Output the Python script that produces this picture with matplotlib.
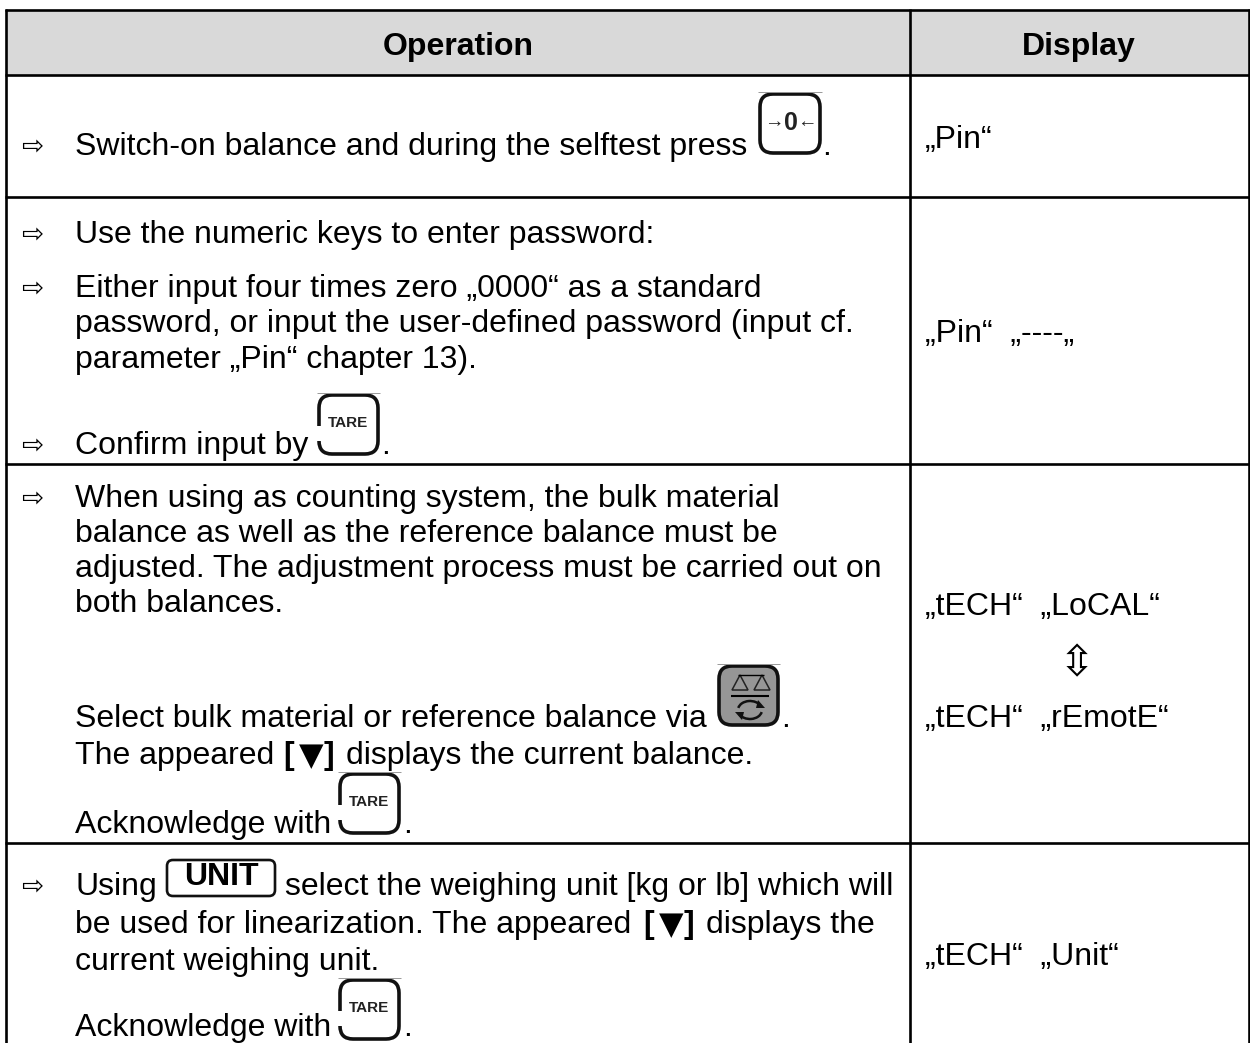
# Operating steps table with key icons, redrawn on a pixel-sized axes.

import matplotlib
matplotlib.use("Agg")
import matplotlib.pyplot as plt
from matplotlib.patches import Rectangle, FancyBboxPatch, Polygon, Arc

plt.rcParams["font.family"] = ["Liberation Sans", "DejaVu Sans"]

HEADERS = ["Operation", "Display"]
ARROW = "\u21e8"
UPDOWN = "\u21f3"
MARK = "\u25bc"

OPERATION_LINES = [
    "Switch-on balance and during the selftest press",
    "Use the numeric keys to enter password:",
    "Either input four times zero \u201e0000\u201c as a standard",
    "password, or input the user-defined password (input cf.",
    "parameter \u201ePin\u201c chapter 13).",
    "Confirm input by",
    "When using as counting system, the bulk material",
    "balance as well as the reference balance must be",
    "adjusted. The adjustment process must be carried out on",
    "both balances.",
    "Select bulk material or reference balance via",
    "Acknowledge with",
    "be used for linearization. The appeared",
    "current weighing unit.",
    "Acknowledge with",
]
LINE_X = [75] * len(OPERATION_LINES)
LINE_Y = [155, 243, 297, 332, 368, 454, 507, 542, 577, 612, 727, 833, 933, 970, 1036]
BULLET_Y = [155, 243, 297, 454, 507, 895]

DISPLAY_LINES = [
    "\u201ePin\u201c",
    "\u201ePin\u201c  \u201e----\u201e",
    "\u201etECH\u201c  \u201eLoCAL\u201c",
    "\u201etECH\u201c  \u201erEmotE\u201c",
    "\u201etECH\u201c  \u201eUnit\u201c",
]
DISPLAY_Y = [148, 342, 615, 727, 965]

FS = 23
LW = 1.9


def line(ax, x, y, **kw):
    ax.plot(x, y, color=kw.pop("color", "black"), lw=kw.pop("lw", LW),
            solid_capstyle="butt", **kw)


def key_box(ax, x0, y0, x1, y1, fill="white", gap=None):
    # gray hairline sits on top of the scanned key icons
    line(ax, [x0, x1], [y0, y0], color="#999999", lw=0.7)
    ax.add_patch(FancyBboxPatch((x0 + 9, y0 + 9), x1 - x0 - 18, y1 - y0 - 18,
                                boxstyle="round,pad=7,rounding_size=13",
                                fc=fill, ec="#111111", lw=2.6))
    if gap:
        # the left side of the key fades out in the scan
        ax.add_patch(Rectangle((x0 - 1, y0 + gap[0]), 6, gap[1], fc="white", ec="none", zorder=3))


def tare_key(ax, x0, y0):
    key_box(ax, x0, y0, x0 + 63, y0 + 63, gap=(33, 15))
    ax.text(x0 + 31, y0 + 30, "TARE", fontsize=11, weight="bold",
            ha="center", va="center", color="#222222", zorder=4)


def zero_key(ax, x0, y0):
    key_box(ax, x0, y0, x0 + 64, y0 + 63)
    ax.text(x0 + 33, y0 + 31, "0", fontsize=18, weight="bold",
            ha="center", va="center", color="#222222", zorder=4)
    ax.text(x0 + 16, y0 + 31, "\u2192", fontsize=14, weight="bold",
            ha="center", va="center", color="#222222", zorder=4)
    ax.text(x0 + 49, y0 + 31, "\u2190", fontsize=14, weight="bold",
            ha="center", va="center", color="#222222", zorder=4)


def balance_key(ax, x0, y0):
    key_box(ax, x0, y0, x0 + 63, y0 + 63, fill="#969696")
    for cx in [x0 + 23, x0 + 45]:
        ax.add_patch(Polygon([(cx - 8, y0 + 26), (cx, y0 + 11), (cx + 8, y0 + 26)],
                             fc="none", ec="#222222", lw=1.1))
    line(ax, [x0 + 21, x0 + 47], [y0 + 11, y0 + 11], lw=1.0)
    line(ax, [x0 + 14, x0 + 52], [y0 + 32, y0 + 32], lw=1.5)
    ax.add_patch(Arc((x0 + 33, y0 + 46), 24, 18, theta1=190, theta2=340, color="#111111", lw=1.8))
    ax.add_patch(Arc((x0 + 33, y0 + 46), 24, 18, theta1=10, theta2=160, color="#111111", lw=1.8))
    ax.add_patch(Polygon([(x0 + 41, y0 + 36), (x0 + 48, y0 + 44), (x0 + 39, y0 + 44)], fc="#111111", ec="none"))
    ax.add_patch(Polygon([(x0 + 25, y0 + 56), (x0 + 18, y0 + 48), (x0 + 27, y0 + 48)], fc="#111111", ec="none"))


def marked(ax, left, y):
    # bold brackets round a large solid triangle
    ax.text(left, y, "[", fontsize=FS, weight="bold", va="baseline")
    ax.text(left + 28, y + 1, MARK, fontsize=23, family="DejaVu Sans", ha="center", va="baseline")
    ax.text(left + 41, y, "]", fontsize=FS, weight="bold", va="baseline")


def main():
    fig = plt.figure(figsize=(12.5, 10.43), dpi=100)
    ax = fig.add_axes([0, 0, 1, 1])
    ax.set_xlim(0, 1250)
    ax.set_ylim(1043, 0)
    ax.axis("off")

    ax.add_patch(Rectangle((6, 10), 1243, 65, fc="#d9d9d9", ec="none"))

    # table rules
    for y in [10, 75, 197, 464, 843]:
        line(ax, [5, 1250], [y, y])
    line(ax, [6, 6], [9, 1043])
    line(ax, [910, 910], [9, 1043])
    line(ax, [1249, 1249], [9, 1043])

    ax.text(458, 55, HEADERS[0], fontsize=FS, weight="bold", ha="center", va="baseline")
    ax.text(1079, 55, HEADERS[1], fontsize=FS, weight="bold", ha="center", va="baseline")

    for y in BULLET_Y:
        ax.text(21, y, ARROW, fontsize=19, family="DejaVu Sans", ha="left", va="baseline")

    for s, x, y in zip(OPERATION_LINES, LINE_X, LINE_Y):
        ax.text(x, y, s, fontsize=FS, ha="left", va="baseline")

    # lines with mixed runs
    ax.text(75, 895, "Using", fontsize=FS, va="baseline")
    ax.text(285, 895, "select the weighing unit [kg or lb] which will", fontsize=FS, va="baseline")
    ax.text(75, 764, "The appeared", fontsize=FS, va="baseline")
    marked(ax, 283, 764)
    ax.text(346, 764, "displays the current balance.", fontsize=FS, va="baseline")
    marked(ax, 643, 933)
    ax.text(706, 933, "displays the", fontsize=FS, va="baseline")

    # full stops after the keys
    for x, y in [(822, 155), (381, 454), (781, 727), (403, 833), (403, 1036)]:
        ax.text(x, y, ".", fontsize=FS, va="baseline")

    for s, y in zip(DISPLAY_LINES, DISPLAY_Y):
        ax.text(925, y, s, fontsize=FS, ha="left", va="baseline")
    ax.text(1077, 664, UPDOWN, fontsize=31, family="DejaVu Sans", ha="center", va="center")

    zero_key(ax, 758, 92)
    tare_key(ax, 317, 393)
    balance_key(ax, 717, 664)
    tare_key(ax, 338, 772)
    tare_key(ax, 338, 978)

    # UNIT key
    ax.add_patch(FancyBboxPatch((171, 864), 100, 28, boxstyle="round,pad=4,rounding_size=6",
                                fc="white", ec="#111111", lw=1.9))
    ax.text(221, 877, "UNIT", fontsize=23, weight="bold", ha="center", va="center")

    fig.savefig("out.png", dpi=100)


if __name__ == "__main__":
    main()
